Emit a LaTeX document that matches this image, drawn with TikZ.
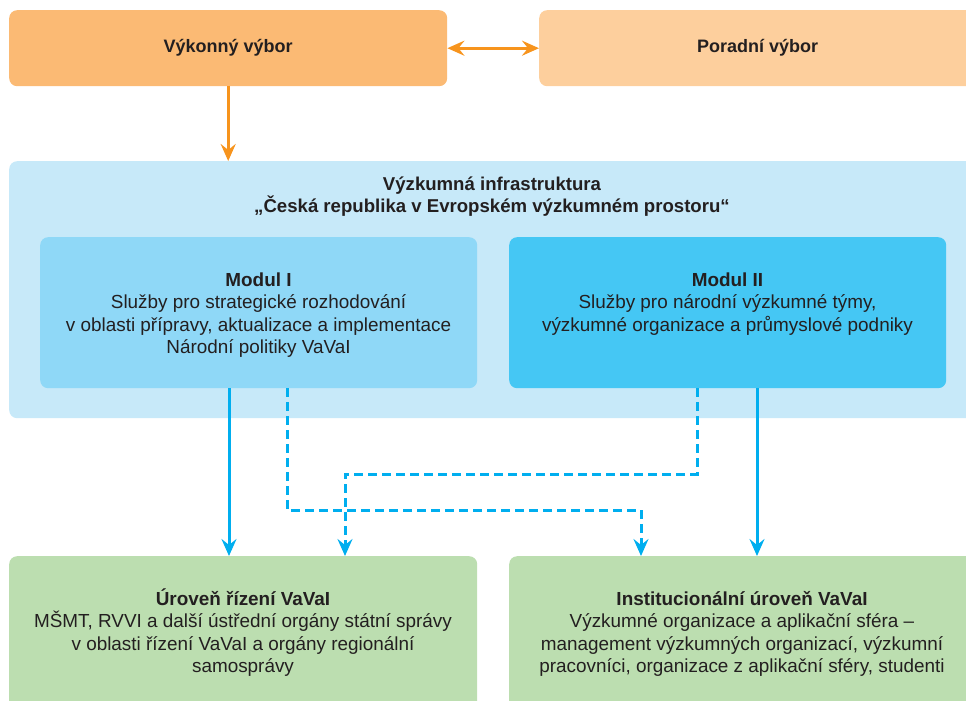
\documentclass[tikz,border=0pt]{standalone}
\usepackage{fontspec}
\setmainfont{Liberation Sans}
\usetikzlibrary{arrows.meta,positioning}
\definecolor{ink}{HTML}{231F20}
\definecolor{vykonnyfill}{HTML}{FBBA74}
\definecolor{poradnifill}{HTML}{FDCF9D}
\definecolor{orangeline}{HTML}{F7941D}
\definecolor{infrafill}{HTML}{C7E9F9}
\definecolor{modIfill}{HTML}{8FD8F7}
\definecolor{modIIfill}{HTML}{45C7F4}
\definecolor{blueline}{HTML}{00AEEF}
\definecolor{greenfill}{HTML}{BCDEB0}
\newcommand{\firstline}{\rule{0pt}{18pt}}

\begin{document}
\begin{tikzpicture}[x=1pt,y=-1pt,>={Stealth[length=17pt,width=15pt,inset=6pt]},
    panel/.style={rounded corners=8pt, inner sep=0pt, anchor=north west, text=ink},
    caption/.style={align=center, inner sep=0pt, anchor=north, text=ink, font=\fontsize{18.9}{22.5}\selectfont},
    orangearrow/.style={draw=orangeline, line width=3pt},
    bluearrow/.style={draw=blueline, line width=3pt, ->},
    bluedash/.style={bluearrow, dash pattern=on 9pt off 5pt}]
  \useasboundingbox (0,0) rectangle (966,701);
  \clip (0,0) rectangle (966,701);
  % vybory
  \node[panel, fill=vykonnyfill, minimum width=438pt, minimum height=76pt, font=\fontsize{18}{20}\selectfont\bfseries] (vykonny) at (9,10) {Výkonný výbor};
  \node[panel, fill=poradnifill, minimum width=437pt, minimum height=76pt, font=\fontsize{18}{20}\selectfont\bfseries] (poradni) at (539,10) {Poradní výbor};
  % infrastruktura
  \node[panel, fill=infrafill, minimum width=966pt, minimum height=257pt] (infra) at (9,161) {};
  \node[caption, font=\fontsize{18.6}{22.5}\selectfont\bfseries] (infratext) at (492,172) {\firstline Výzkumná infrastruktura\\„Česká republika v Evropském výzkumném prostoru“};
  \node[panel, fill=modIfill, minimum width=437pt, minimum height=151pt] (modI) at (40,237) {};
  \node[caption] (modItext) at (258.5,268) {\firstline\textbf{Modul I}\\Služby pro strategické rozhodování\\v oblasti přípravy, aktualizace a implementace\\Národní politiky VaVaI};
  \node[panel, fill=modIIfill, minimum width=437pt, minimum height=151pt] (modII) at (509,237) {};
  \node[caption] (modIItext) at (727.5,268) {\firstline\textbf{Modul II}\\Služby pro národní výzkumné týmy,\\výzkumné organizace a průmyslové podniky};
  % urovne
  \node[panel, fill=greenfill, minimum width=468pt, minimum height=160pt] (uroven) at (9,556) {};
  \node[caption] (uroventext) at (243,587) {\firstline\textbf{Úroveň řízení VaVaI}\\MŠMT, RVVI a další ústřední orgány státní správy\\v oblasti řízení VaVaI a orgány regionální\\samosprávy};
  \node[panel, fill=greenfill, minimum width=466pt, minimum height=160pt] (institut) at (509,556) {};
  \node[caption] (instituttext) at (742,587) {\firstline\textbf{Institucionální úroveň VaVaI}\\Výzkumné organizace a aplikační sféra –\\management výzkumných organizací, výzkumní\\pracovníci, organizace z aplikační sféry, studenti};
  % spoje
  \coordinate (c1) at (229,0);
  \coordinate (c2) at (757,0);
  \coordinate (d1) at (287,510);
  \coordinate (d2) at (697,474);
  \coordinate (e1) at (641,0);
  \coordinate (e2) at (345,0);
  \draw[orangearrow,<->] (vykonny.east) -- (poradni.west);
  \draw[orangearrow,->] (vykonny.south) -- (vykonny.south |- infra.north);
  \draw[bluearrow] (c1 |- modI.south) -- (c1 |- uroven.north);
  \draw[bluearrow] (c2 |- modII.south) -- (c2 |- institut.north);
  \draw[bluedash] (d1 |- modI.south) -- (d1) -| (e1 |- institut.north);
  \draw[bluedash] (d2 |- modII.south) -- (d2) -| (e2 |- uroven.north);
\end{tikzpicture}
\end{document}
